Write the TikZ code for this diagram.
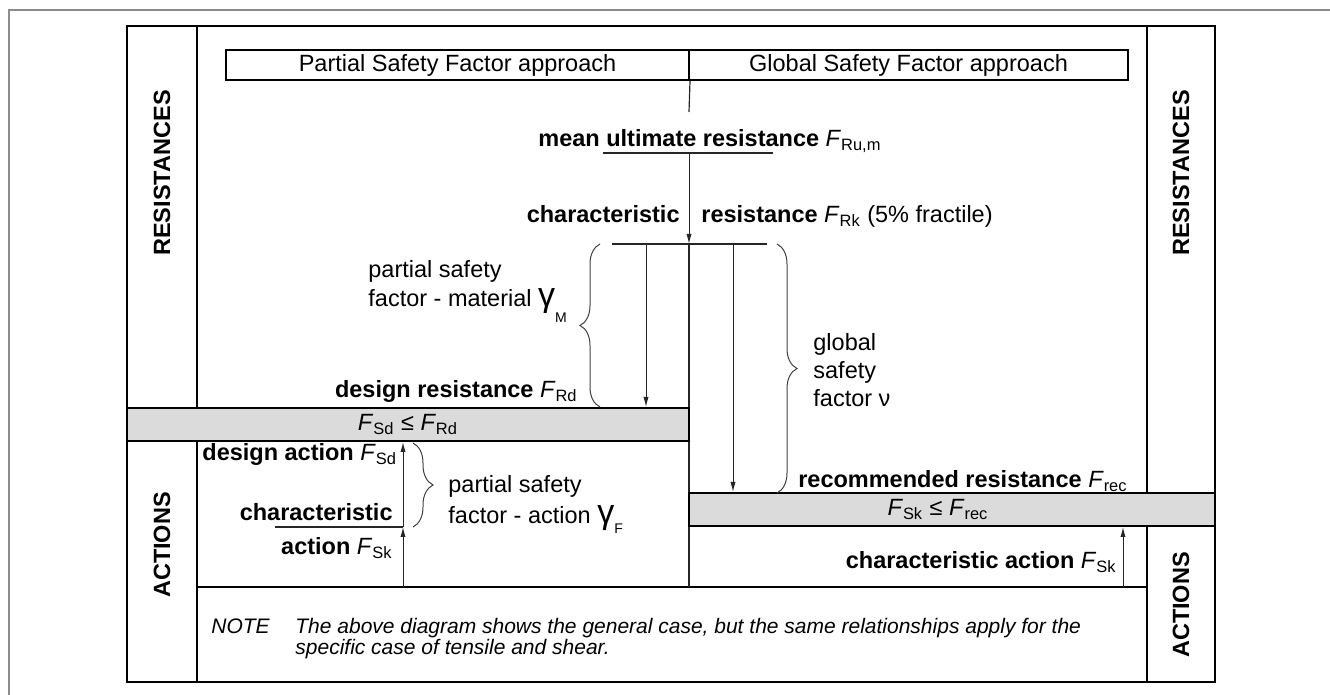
\documentclass[tikz,border=0pt]{standalone}
\usepackage{fontspec}
\setmainfont{Liberation Sans}
\usetikzlibrary{arrows.meta}
\usetikzlibrary{decorations.pathreplacing}

\newcommand{\Fs}[1]{{\normalfont\textit{F}\textsubscript{#1}}}
\newcommand{\gsub}[2]{{\fontsize{17}{17}\selectfont γ}\raisebox{#2}{\fontsize{7}{7}\selectfont #1}}

\begin{document}
\begin{tikzpicture}[x=0.5pt,y=-0.5pt,
    font=\fontsize{11.75}{14.5}\selectfont,
    frm/.style={line width=1pt},
    lvl/.style={line width=0.6pt, black!85},
    arr/.style={-{Latex[length=5pt,width=2.6pt]}, line width=0.5pt, black!85},
    brc/.style={decorate, decoration={brace,amplitude=10pt,aspect=0.5}, line width=0.5pt, black!75},
    band/.style={draw, line width=1pt, fill=black!14, inner sep=0pt},
    hdr/.style={draw, line width=1pt, minimum height=15pt, inner sep=0pt},
    lbl/.style={inner sep=0pt},
    notefont/.style={inner sep=0pt, anchor=base west, font=\fontsize{10.5}{12}\selectfont\itshape},
    side/.style={rotate=90, inner sep=0pt, font=\fontsize{11.75}{14}\selectfont\bfseries}]

  \useasboundingbox (0,0) rectangle (1330,695);
  \draw[black!45, line width=0.7pt] (1330,10) -- (9,10) -- (9,695);

  % frame and columns
  \draw[frm] (127,26) rectangle (1215,682);
  \draw[frm] (197,26) -- (197,408);
  \draw[frm] (197,441) -- (197,682);
  \draw[frm] (1147,26) -- (1147,493);
  \draw[frm] (1147,526) -- (1147,682);
  \draw[frm] (197,587) -- (1147,587);

  \node[hdr, minimum width=231.5pt] (lhdr) at (457.5,65) {Partial Safety Factor approach};
  \node[hdr, minimum width=219.5pt] (rhdr) at (908.5,65) {Global Safety Factor approach};

  % levels on the middle line
  \coordinate (cgap) at (689,112);
  \coordinate (cmean) at (689,153);
  \coordinate (crk) at (689,244);
  \coordinate (cbot) at (689,587);
  \coordinate (mu1) at (603,153);
  \coordinate (mu2) at (773,153);
  \coordinate (rk1) at (612,244);
  \coordinate (rk2) at (767,244);
  \draw[lvl] (lhdr.south east) -- (cgap);
  \draw[arr] (cmean) -- (crk);
  \draw[lvl] (crk) -- (cbot);
  \draw[lvl] (mu1) -- (mu2);
  \draw[lvl] (rk1) -- (rk2);

  \node[band, minimum width=281pt, minimum height=16.5pt] (lband) at (408,424.5) {\Fs{Sd} ≤ \Fs{Rd}};
  \node[band, minimum width=263pt, minimum height=16.5pt] (rband) at (952,509.5) {\hspace*{-14pt}\Fs{Sk} ≤ \Fs{rec}};

  \coordinate (d1) at (646,244);
  \coordinate (d2) at (733,244);
  \draw[arr] (d1) -- (d1 |- lband.north);
  \draw[arr] (d2) -- (d2 |- rband.north);

  % actions
  \coordinate (sk) at (403,527);
  \coordinate (skl) at (275,527);
  \coordinate (a0) at (403,587);
  \coordinate (b0) at (1123,587);
  \draw[lvl] (skl) -- (sk);
  \draw[arr] (a0) -- (sk);
  \draw[arr] (sk) -- (sk |- lband.south);
  \draw[arr] (b0) -- (b0 |- rband.south);

  \draw[brc] (600,407) -- (600,244);
  \draw[brc] (777,244) -- (777,493);
  \draw[brc] (413,443) -- (413,527);

  \node[lbl, anchor=base west] (mean) at (538,147) {\textbf{mean ultimate resistance} \Fs{Ru,m}};
  \node[lbl, anchor=base east] (chr) at (680,223) {\textbf{characteristic}};
  \node[lbl, anchor=base west] (rk) at (701,223) {\textbf{resistance} \Fs{Rk} (5\% fractile)};
  \node[lbl, anchor=north west, align=left] (pm) at (368,260) {partial safety\\factor - material \gsub{M}{-8pt}};
  \node[lbl, anchor=base east] (rd) at (578,398) {\textbf{design resistance} \Fs{Rd}};
  \node[lbl, anchor=north west, align=left, font=\fontsize{11.75}{14}\selectfont] (gl) at (813,333) {global\\safety\\factor ν};
  \node[lbl, anchor=base east] (rec) at (1128,488) {\textbf{recommended resistance} \Fs{rec}};
  \node[lbl, anchor=base east] (cha) at (1117,569) {\textbf{characteristic action} \Fs{Sk}};
  \node[lbl, anchor=base west] (da) at (202,461) {\textbf{design action} \Fs{Sd}};
  \node[lbl, anchor=base east] (ch) at (393,521) {\textbf{characteristic}};
  \node[lbl, anchor=base east] (ac) at (393,555) {\textbf{action} \Fs{Sk}};
  \node[lbl, anchor=north west, align=left, font=\fontsize{11.75}{15.5}\selectfont] (pa) at (448,475) {partial safety\\factor - action \gsub{F}{-5pt}};

  \node[notefont] (note) at (211,633) {NOTE};
  \node[notefont] (note1) at (295,633) {The above diagram shows the general case, but the same relationships apply for the};
  \node[notefont] (note2) at (295,654) {specific case of tensile and shear.};

  \node[side] (resl) at (162,173) {RESISTANCES};
  \node[side] (actl) at (162,545) {ACTIONS};
  \node[side] (resr) at (1181,173) {RESISTANCES};
  \node[side] (actr) at (1181,605) {ACTIONS};
\end{tikzpicture}
\end{document}
